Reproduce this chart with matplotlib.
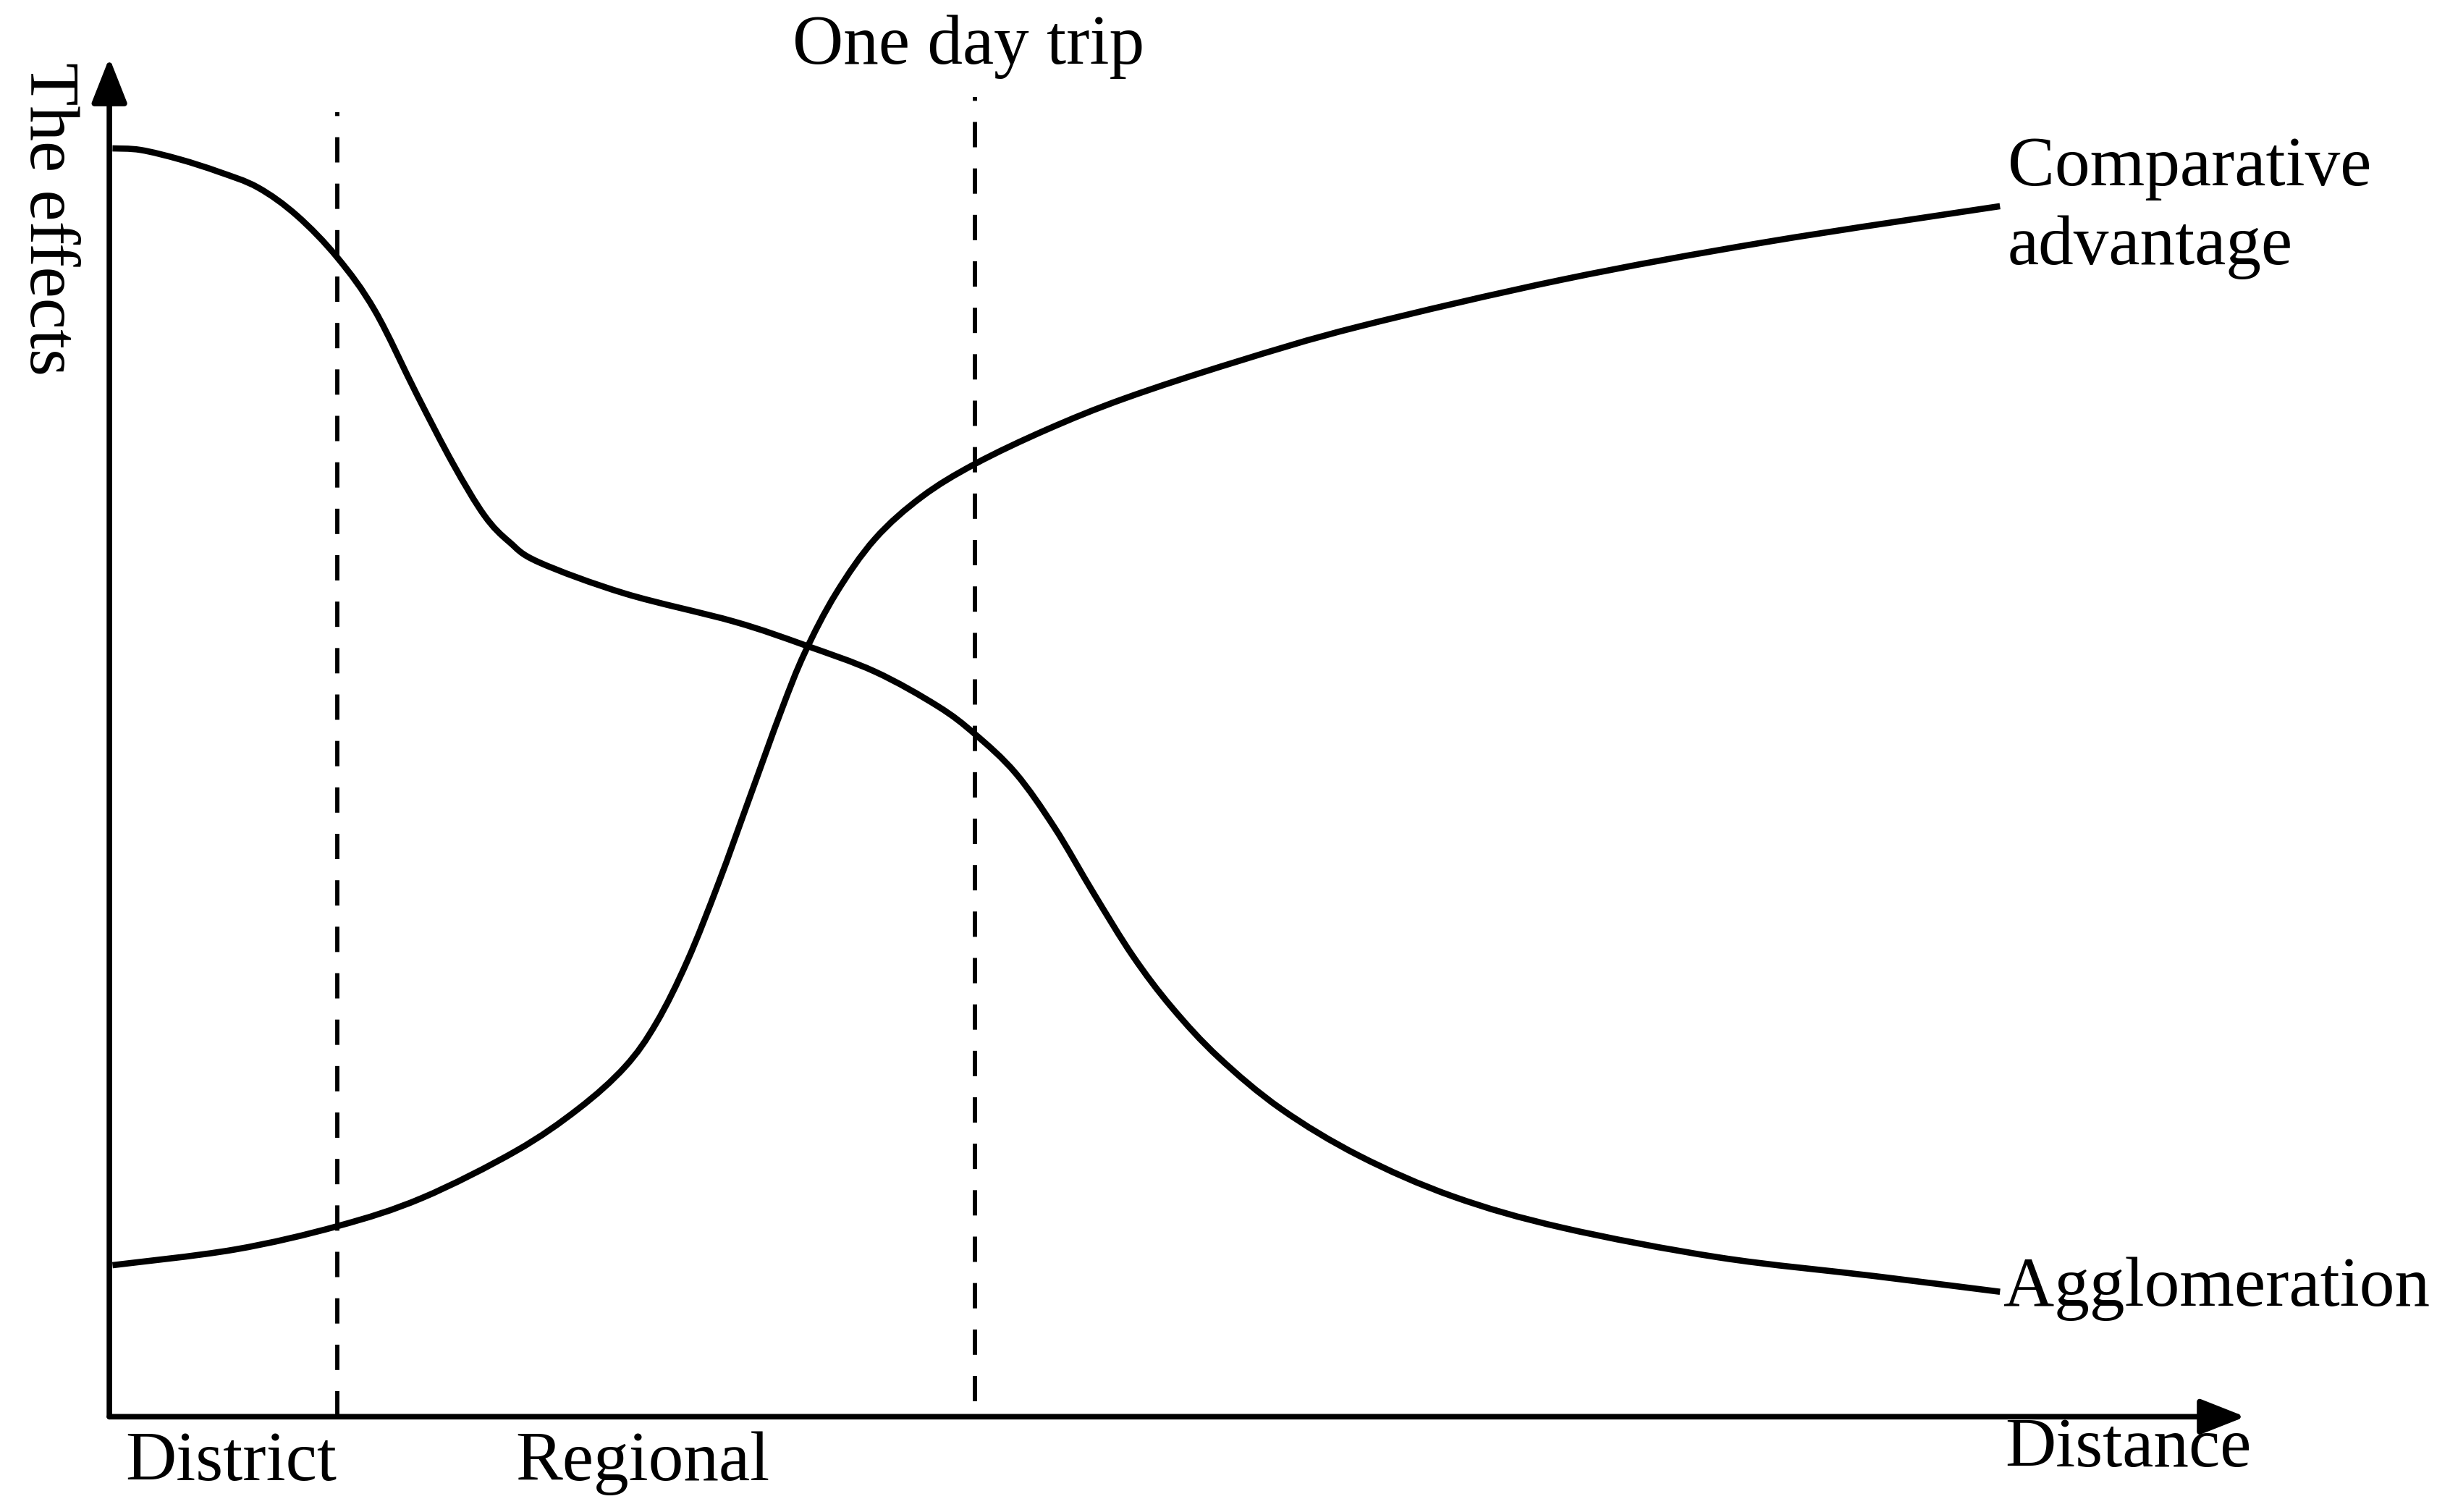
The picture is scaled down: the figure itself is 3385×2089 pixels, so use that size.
"""Schematic: agglomeration vs comparative advantage effects over distance."""

import numpy as np
import matplotlib
matplotlib.use("Agg")
import matplotlib.pyplot as plt
from matplotlib.path import Path
from matplotlib.patches import PathPatch

# Curves (distance units, effect units from origin)
agglo_x = [2, 20, 45, 70, 95, 120, 146, 170, 197, 220, 240, 256, 275, 330,
           400, 445, 490, 530, 554, 580, 605, 630, 655, 680, 710, 750, 800,
           860, 930, 1030, 1130, 1210]
agglo_y = [812, 811, 805, 797, 787, 769, 742, 708, 654, 610, 577, 560, 547,
           527, 509, 494, 477, 455, 437, 412, 377, 335, 295, 262, 230, 197,
           167, 141, 121, 102, 90, 80]

comp_x = [2, 80, 146, 200, 260, 300, 330, 350, 370, 390, 410, 430, 445, 465,
          490, 520, 554, 600, 650, 720, 800, 930, 1060, 1210]
comp_y = [97, 107, 122, 140, 170, 197, 224, 252, 292, 342, 397, 452, 489,
          527, 562, 589, 610, 632, 652, 675, 698, 728, 752, 775]

# Dashed boundaries: (x, y_bottom, y_top)
bounds_x = [146, 554]
bounds_lo = [0, 10]
bounds_hi = [835, 845]

x_end = 1367
y_end = 870

FONT = "Liberation Serif"
FS = 70


def smooth_path(xs, ys):
    """Catmull-Rom through the points, as cubic Bezier segments."""
    p = np.column_stack([xs, ys]).astype(float)
    p = np.vstack([p[0], p, p[-1]])
    verts = [p[1]]
    codes = [Path.MOVETO]
    for i in range(1, len(p) - 2):
        c1 = p[i] + (p[i + 1] - p[i - 1]) / 6
        c2 = p[i + 1] - (p[i + 2] - p[i]) / 6
        verts += [c1, c2, p[i + 1]]
        codes += [Path.CURVE4] * 3
    return Path(verts, codes)


fig = plt.figure(figsize=(33.85, 20.89), dpi=100)
ax = fig.add_axes([0, 0, 1, 1])
ax.set_xlim(-70, 1498)
ax.set_ylim(-61, 907)
ax.axis("off")

# Axes with arrowheads
arrow = dict(arrowstyle="-|>,head_length=38,head_width=15", mutation_scale=1,
             lw=5.5, color="black", shrinkA=0, shrinkB=0)
ax.annotate("", xy=(x_end, 0), xytext=(0, 0), arrowprops=arrow)
ax.annotate("", xy=(0, y_end), xytext=(0, 0), arrowprops=arrow)

for bx, lo, hi in zip(bounds_x, bounds_lo, bounds_hi):
    ax.plot([bx, bx], [lo, hi], color="black", lw=4.2, dashes=(6, 5))

for xs, ys in [(agglo_x, agglo_y), (comp_x, comp_y)]:
    ax.add_patch(PathPatch(smooth_path(xs, ys), fill=False, lw=6.2,
                           edgecolor="black", capstyle="butt"))

txt = dict(family=FONT, fontsize=FS, color="black")
ax.text(550, 877, "One day trip", ha="center", va="center", **txt)
ax.text(1215, 774, "Comparative\nadvantage", ha="left", va="center",
        linespacing=1.3, **txt)
ax.text(1212, 82, "Agglomeration", ha="left", va="center", **txt)
ax.text(1213, -21, "Distance", ha="left", va="center", **txt)
ax.text(10, -30, "District", ha="left", va="center", **txt)
ax.text(260, -30, "Regional", ha="left", va="center", **txt)
ax.text(-40, 767, "The effects", ha="center", va="center", rotation=-90, **txt)

fig.savefig("out.png", dpi=100)
